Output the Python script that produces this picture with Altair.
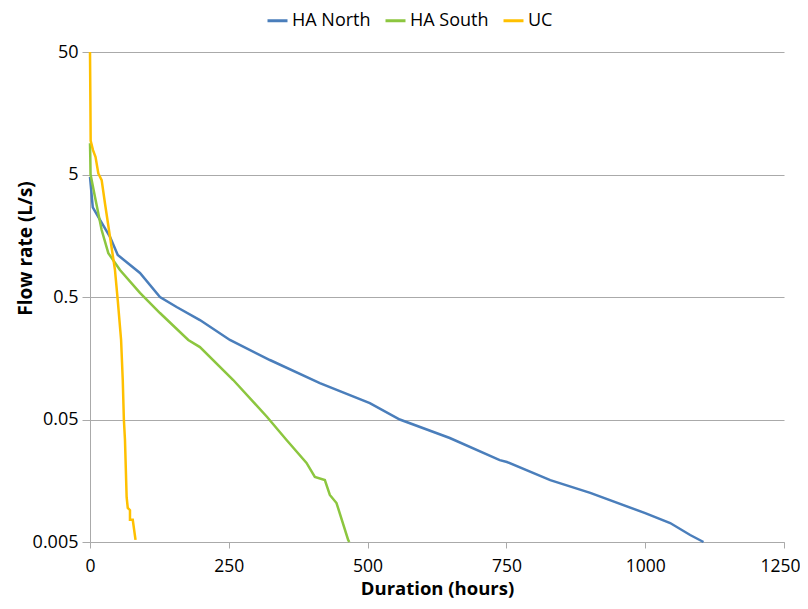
import altair as alt
import pandas as pd

north_h = [0, 5, 18, 36, 50, 90, 126, 156, 198, 252, 324, 414, 504, 558, 648, 738, 751, 829, 901, 1000, 1045, 1081, 1105]
north_q = [4.77, 2.7, 2.13, 1.55, 1.10, 0.785, 0.5, 0.414, 0.324, 0.223, 0.153, 0.099, 0.068, 0.05, 0.0353, 0.0233, 0.0225, 0.016, 0.0126, 0.0086, 0.00714, 0.0057, 0.005]

south_h = [0, 0.5, 1, 9, 21, 33, 54, 90, 126, 177, 198, 258, 319, 354, 390, 405, 423, 432, 444, 465, 467]
south_q = [9.0, 7.0, 5.0, 3.27, 1.76, 1.14, 0.83, 0.54, 0.37, 0.223, 0.195, 0.105, 0.0524, 0.034, 0.0221, 0.017, 0.016, 0.0121, 0.0104, 0.0052, 0.005]

uc_h = [0, 0.7, 1.2, 5.4, 10, 15, 21, 27, 36, 45, 50, 56, 59, 61, 63, 66, 68, 72, 72, 77, 82]
uc_q = [50, 20, 9.4, 7.9, 6.95, 5.1, 4.5, 2.9, 1.55, 0.83, 0.47, 0.223, 0.105, 0.05, 0.034, 0.0116, 0.0095, 0.0091, 0.0076, 0.0076, 0.0052]

series = ["HA North", "HA South", "UC"]
colors = ["#4A7EBB", "#8CC63F", "#FFC000"]

rows = []
for name, hs, qs in [("HA North", north_h, north_q), ("HA South", south_h, south_q), ("UC", uc_h, uc_q)]:
    for i, (h, q) in enumerate(zip(hs, qs)):
        rows.append({"series": name, "hours": h, "flow": q, "order": i})
df = pd.DataFrame(rows)

font = "Open Sans"

chart = alt.Chart(df).mark_line(strokeWidth=2.5).encode(
    x=alt.X("hours:Q",
            scale=alt.Scale(domain=[0, 1250], nice=False),
            axis=alt.Axis(title="Duration (hours)", values=[0, 250, 500, 750, 1000, 1250], format="d",
                          labelFlush=False, labelOverlap=False,
                          labelAlign={"condition": {"test": "datum.value == 1250", "value": "right"}, "value": "center"},
                          labelOffset={"condition": {"test": "datum.value == 1250", "value": 16}, "value": 0},
                          grid=False, domainColor="#AAAAAA", tickColor="#AAAAAA", tickSize=6,
                          labelFontSize=17.5, labelColor="#000000", labelPadding=9,
                          titleFontSize=18.5, titleFontWeight="bold", titleColor="#000000",
                          titlePadding=5, labelFont=font, titleFont=font)),
    y=alt.Y("flow:Q",
            scale=alt.Scale(type="log", domain=[0.005, 50], nice=False),
            axis=alt.Axis(title="Flow rate (L/s)", values=[0.005, 0.05, 0.5, 5, 50], format="~g",
                          labelFlush=False, labelOverlap=False,
                          grid=True, gridColor="#AAAAAA", gridWidth=1.2,
                          domainColor="#AAAAAA", tickColor="#AAAAAA", tickSize=8,
                          labelFontSize=18, labelColor="#000000", labelPadding=4,
                          titleFontSize=19, titleFontWeight="bold", titleColor="#000000",
                          titleX=-65, titleY=196, titleAngle=270, titleAlign="center",
                          titleBaseline="middle", labelFont=font, titleFont=font)),
    color=alt.Color("series:N",
                    scale=alt.Scale(domain=series, range=colors),
                    legend=alt.Legend(title=None, orient="none", direction="horizontal",
                                      legendX=176, legendY=-43,
                                      symbolType="stroke", symbolSize=400, symbolStrokeWidth=3,
                                      labelFontSize=18, labelFont=font, labelColor="#000000",
                                      labelOffset=3, columnPadding=8)),
    order="order:Q",
).properties(
    width=694, height=490,
    autosize=alt.AutoSizeParams(type="none"),
    padding={"left": 82, "top": 44, "right": 16, "bottom": 60},
).configure_view(stroke=None)

chart.save("out.html", embed_options={"renderer": "svg", "actions": False})
